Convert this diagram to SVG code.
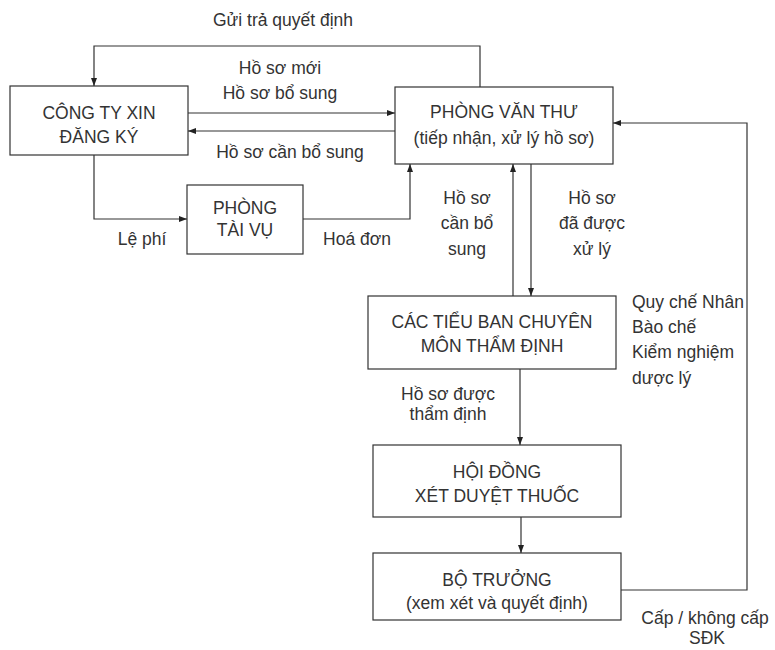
<svg xmlns="http://www.w3.org/2000/svg" width="775" height="650" viewBox="0 0 775 650">
<style>
text{font-family:"Liberation Sans",Arial,sans-serif;font-size:17.5px;fill:#333}
.c{text-anchor:middle}
.box{fill:#fff;stroke:#333;stroke-width:1.2}
.ln{fill:none;stroke:#333;stroke-width:1.2}
</style>
<defs>
<marker id="ah" viewBox="0 0 8 6" refX="8" refY="3" markerWidth="8" markerHeight="6" markerUnits="userSpaceOnUse" orient="auto">
<path d="M0,0 L8,3 L0,6 z" fill="#222"/>
</marker>
</defs>
<rect width="775" height="650" fill="#fff"/>
<g id="connectors">
<path class="ln" d="M480,87 V46 H94 V86" marker-end="url(#ah)"/>
<path class="ln" d="M188,113 H395" marker-end="url(#ah)"/>
<path class="ln" d="M395,131 H188" marker-end="url(#ah)"/>
<path class="ln" d="M94,155 V219 H187" marker-end="url(#ah)"/>
<path class="ln" d="M303,219 H410 V164" marker-end="url(#ah)"/>
<path class="ln" d="M513,296 V164" marker-end="url(#ah)"/>
<path class="ln" d="M531,164 V296" marker-end="url(#ah)"/>
<path class="ln" d="M520,369 V445" marker-end="url(#ah)"/>
<path class="ln" d="M521,517 V553" marker-end="url(#ah)"/>
<path class="ln" d="M621,590 H747 V123 H613" marker-end="url(#ah)"/>
</g>
<g id="labels">
<text class="c" x="283" y="26">Gửi trả quyết định</text>
<text class="c" x="280" y="74">Hồ sơ mới</text>
<text class="c" x="280" y="99">Hồ sơ bổ sung</text>
<text class="c" x="290" y="158">Hồ sơ cần bổ sung</text>
<text class="c" x="142" y="245">Lệ phí</text>
<text class="c" x="357" y="245">Hoá đơn</text>
<text class="c" x="467" y="204">Hồ sơ</text>
<text class="c" x="467" y="229">cần bổ</text>
<text class="c" x="467" y="255">sung</text>
<text class="c" x="592" y="204">Hồ sơ</text>
<text class="c" x="592" y="229">đã được</text>
<text class="c" x="592" y="255">xử lý</text>
<text x="632" y="308">Quy chế Nhân</text>
<text x="632" y="333">Bào chế</text>
<text x="632" y="358">Kiểm nghiệm</text>
<text x="632" y="384">dược lý</text>
<text class="c" x="448" y="400">Hồ sơ được</text>
<text class="c" x="448" y="420">thẩm định</text>
<text class="c" x="705" y="624">Cấp / không cấp</text>
<text class="c" x="707" y="644">SĐK</text>
</g>
<g id="cong-ty">
<rect class="box" x="10" y="86" width="178" height="69"/>
<text class="c" x="99" y="119">CÔNG TY XIN</text>
<text class="c" x="99" y="143">ĐĂNG KÝ</text>
</g>
<g id="phong-van-thu">
<rect class="box" x="395" y="87" width="218" height="77"/>
<text class="c" x="504" y="118">PHÒNG VĂN THƯ</text>
<text class="c" x="504" y="144">(tiếp nhận, xử lý hồ sơ)</text>
</g>
<g id="phong-tai-vu">
<rect class="box" x="187" y="185" width="116" height="69"/>
<text class="c" x="245" y="214">PHÒNG</text>
<text class="c" x="245" y="236">TÀI VỤ</text>
</g>
<g id="tieu-ban">
<rect class="box" x="368" y="296" width="248" height="73"/>
<text class="c" x="492" y="328">CÁC TIỂU BAN CHUYÊN</text>
<text class="c" x="492" y="352">MÔN THẨM ĐỊNH</text>
</g>
<g id="hoi-dong">
<rect class="box" x="373" y="445" width="248" height="72"/>
<text class="c" x="497" y="478">HỘI ĐỒNG</text>
<text class="c" x="497" y="502">XÉT DUYỆT THUỐC</text>
</g>
<g id="bo-truong">
<rect class="box" x="373" y="553" width="248" height="67"/>
<text class="c" x="497" y="586">BỘ TRƯỞNG</text>
<text class="c" x="497" y="609">(xem xét và quyết định)</text>
</g>
</svg>
